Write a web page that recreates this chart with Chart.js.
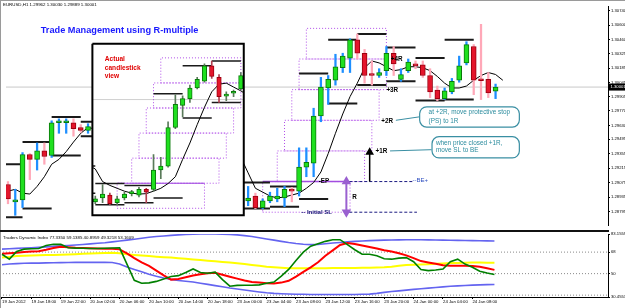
<!DOCTYPE html>
<html><head><meta charset="utf-8">
<script src="https://cdn.jsdelivr.net/npm/chart.js@4.4.1/dist/chart.umd.min.js"></script>
<style>
html,body{margin:0;padding:0;background:#fff;}
#wrap{position:relative;width:625px;height:308px;overflow:hidden;background:#fff;}
canvas{position:absolute;left:0;}
#main{top:0;}
#sub{top:226px;}
.ln{position:absolute;}
</style></head><body>
<div id="wrap">
<canvas id="main" width="625" height="231"></canvas>
<canvas id="sub" width="625" height="82"></canvas>
<div class="ln" style="left:0;top:0;width:625px;height:1px;background:#9a9a9a"></div>
<div class="ln" style="left:0;top:0;width:1px;height:308px;background:#9a9a9a"></div>
<div class="ln" style="left:0;top:230px;width:609px;height:2px;background:#111"></div>
</div>
<script>
// ---------------- DATA ----------------
const symbol = 'EURUSD,H1';
const timeLabels = ['19 Jan 2012','19 Jan 18:00','19 Jan 22:00','20 Jan 02:00','20 Jan 06:00','20 Jan 10:00','20 Jan 14:00','20 Jan 18:00','23 Jan 00:00','23 Jan 04:00','23 Jan 08:00','23 Jan 12:00','23 Jan 16:00','23 Jan 20:00','24 Jan 00:00','24 Jan 04:00','24 Jan 08:00'];
const priceTicks = ['1.30740','1.30600','1.30460','1.30325','1.30185','1.30045','1.29905','1.29770','1.29630','1.29495','1.29355','1.29215','1.29075','1.28935','1.28795'];

// main H1 candles (bar index = hour slot)
const mainBar   = [0,1,2,3,4,5,6,7,8,9,10,11,33,34,35,36,37,38,39,40,41,42,43,44,45,46,47,48,49,50,51,52,53,54,55,56,57,58,59,60,61,62,63,64,65,66,67];
const mainOpen  = [1.29057,1.28889,1.28908,1.29347,1.29300,1.29384,1.29338,1.29655,1.29655,1.29655,1.29609,1.29581,
  1.28898,1.28945,1.28833,1.28898,1.28917,1.28926,1.29010,1.28992,1.29225,1.29263,1.29721,1.29992,1.30067,1.30188,1.30282,1.30460,1.30329,1.30118,1.30113,1.30160,1.30329,1.30076,1.30160,1.30226,1.30216,1.30113,1.29973,1.29889,1.29955,1.30067,1.30235,1.30394,1.30076,1.30076,1.29962];
const mainHigh  = [1.29085,1.29010,1.29366,1.29356,1.29459,1.29459,1.29674,1.29693,1.29693,1.29693,1.29637,1.29646,
  1.29038,1.28973,1.28917,1.28982,1.29020,1.29038,1.29029,1.29412,1.29412,1.29796,1.30095,1.30113,1.30319,1.30329,1.30469,1.30516,1.30366,1.30254,1.30179,1.30394,1.30394,1.30179,1.30273,1.30254,1.30254,1.30179,1.30011,1.29992,1.30085,1.30301,1.30441,1.30413,1.30609,1.30142,1.30030];
const mainLow   = [1.28870,1.28758,1.28833,1.29104,1.29197,1.29253,1.29319,1.29553,1.29553,1.29525,1.29562,1.29553,
  1.28851,1.28823,1.28823,1.28880,1.28889,1.28842,1.28889,1.28945,1.29132,1.29132,1.29665,1.29833,1.30020,1.30142,1.30142,1.30273,1.30039,1.30020,1.30095,1.30113,1.30113,1.30057,1.30142,1.30179,1.30095,1.29899,1.29870,1.29880,1.29936,1.30048,1.30216,1.29927,1.29880,1.29899,1.29889];
const mainClose = [1.28917,1.28908,1.29347,1.29300,1.29384,1.29328,1.29655,1.29674,1.29665,1.29599,1.29581,1.29618,
  1.28926,1.28833,1.28898,1.28945,1.28945,1.29010,1.28992,1.29225,1.29272,1.29721,1.30001,1.30076,1.30198,1.30301,1.30460,1.30329,1.30113,1.30113,1.30142,1.30329,1.30226,1.30123,1.30244,1.30207,1.30113,1.29955,1.29889,1.29964,1.30057,1.30207,1.30413,1.30067,1.30062,1.29945,1.30001];

// moving average on the main chart
const maBar   = [0,1,2,3,4,5,6,7,8,9,10,11,32,33,34,35,36,37,38,39,40,41,42,43,44,45,46,47,48,49,50,51,52,53,54,55,56,57,58,59,60,61,62,63,64,65,66,67,68];
const maValue = [1.28992,1.29010,1.28973,1.28964,1.29038,1.29132,1.29253,1.29300,1.29375,1.29468,1.29553,1.29609,
  1.29319,1.29169,1.29020,1.28983,1.28945,1.28926,1.28936,1.28954,1.28973,1.29020,1.29076,1.29178,1.29356,1.29553,1.29740,1.29908,1.30039,1.30188,1.30254,1.30235,1.30198,1.30160,1.30170,1.30198,1.30198,1.30188,1.30160,1.30104,1.30039,1.29992,1.29992,1.30011,1.30067,1.30113,1.30142,1.30123,1.30067];

// H4 high/low markers (start slot, 4 slots long)
const h4Start = [-2,2,6,10,32,36,40,44,48,52,56,60];
const h4High  = [1.29253,1.29468,1.29712,1.29665,1.29076,1.29038,1.30132,1.30460,1.30516,1.30385,1.30282,1.30460];
const h4Low   = [1.28739,1.28823,1.29338,1.29525,1.28823,1.28842,1.28917,1.29842,1.30020,1.30057,1.29870,1.29880];

// R-multiple levels: SL, EP, +1R ... +5R
const rLevels = [1.28788,1.29085,1.29382,1.29679,1.29976,1.30273,1.30570];
const rBoxStart = [35,37,38,39,40,41];
const rBoxEnd   = [47,49,50,51,52,52];
const bidPrice = 1.30001;

// inset: "actual candlestick view"
const insetBar   = [12,13,14,15,16,17,18,19,20,21,22,23,24,25,26,27,28,29,30,31,32];
const insetOpen  = [1.28889,1.28926,1.28954,1.28880,1.28926,1.28968,1.28954,1.29010,1.29010,1.29197,1.29235,1.29609,1.29823,1.29889,1.29992,1.30057,1.30207,1.30095,1.29913,1.29941,1.29983];
const insetHigh  = [1.28945,1.29057,1.28973,1.28945,1.28982,1.29001,1.29029,1.29020,1.29347,1.29319,1.29665,1.29927,1.29917,1.30020,1.30095,1.30226,1.30254,1.30123,1.29955,1.29973,1.30142];
const insetLow   = [1.28870,1.28880,1.28861,1.28861,1.28908,1.28945,1.28936,1.28880,1.28992,1.29113,1.29225,1.29599,1.29712,1.29852,1.29983,1.30048,1.30085,1.29852,1.29870,1.29908,1.29973];
const insetClose = [1.28917,1.28964,1.28870,1.28917,1.28964,1.28973,1.29010,1.28982,1.29197,1.29235,1.29609,1.29833,1.29889,1.29992,1.30076,1.30207,1.30104,1.29908,1.29917,1.29945,1.30113];
const insetMaBar   = [11,12,13,14,15,16,17,18,19,20,21,22,23,24,25,26,27,28,29,30,31,32,33];
const insetMaValue = [1.29244,1.29207,1.29085,1.29048,1.29020,1.28992,1.28973,1.28964,1.28968,1.28992,1.29020,1.29066,1.29132,1.29300,1.29459,1.29637,1.29805,1.29955,1.30029,1.30039,1.30001,1.29964,1.29920];
const insetH4Start = [8,12,16,20,24,28];
const insetH4High  = [1.29235,1.29066,1.29048,1.29936,1.30207,1.30254];
const insetH4Low   = [1.28973,1.28861,1.28880,1.28926,1.29702,1.29852];
const insetLevels  = [1.28826,1.29069,1.29312,1.29555,1.29798,1.30041,1.30284];
const insetBoxStart = [15,17,18,19,20,21];
const insetBoxEnd   = [27,29,30,31,32,32];
const insetBid = 1.29880;

// Traders Dynamic Index (lower window), one value per slot 0..67
const tdiUpper = [70.5,70.8,71.1,71.4,71.7,72.0,72.4,72.8,73.2,73.6,74.0,74.4,74.9,75.4,75.9,76.6,77.3,78.0,78.8,79.6,80.4,81.0,81.5,82.0,82.4,82.7,82.9,83.1,83.15,83.1,83.0,82.8,82.4,81.8,81.0,80.0,79.0,78.0,77.0,76.0,75.2,74.6,74.3,74.5,75.0,75.6,76.1,76.6,77.0,77.3,77.6,77.8,78.0,78.1,78.2,78.3,78.3,78.3,78.2,78.1,78.0,77.9,77.8,77.7,77.6,77.5,77.4,77.34];
const tdiMid   = [63.4,64.0,64.7,65.0,65.2,65.3,65.5,65.6,65.8,66.0,66.3,66.6,66.9,67.1,67.3,67.5,67.0,66.2,65.6,65.1,64.7,64.2,63.8,63.4,62.9,62.4,61.9,61.4,60.8,60.3,59.8,59.4,58.7,58.0,57.2,56.5,55.8,55.3,54.9,54.5,54.5,54.5,54.6,54.6,54.6,54.7,54.7,54.7,54.8,54.9,55.0,55.1,55.3,55.8,56.5,57.2,57.5,57.7,57.9,58.2,58.5,58.8,59.0,59.2,59.3,59.3,59.2,59.14];
const tdiLower = [57.4,58.0,58.4,58.7,58.8,58.8,59.0,59.1,59.2,59.3,59.4,59.4,59.4,59.4,59.4,59.3,58.0,55.5,53.5,51.5,49.5,47.8,46.4,45.2,44.3,43.6,43.0,42.0,41.0,40.0,39.0,38.0,37.2,36.3,35.5,34.7,34.0,33.5,33.2,33.0,32.8,32.7,32.6,32.6,32.6,32.6,32.6,32.6,32.6,32.7,32.9,33.5,34.3,35.0,35.6,36.2,36.8,37.4,37.9,38.4,38.9,39.4,39.8,40.1,40.4,40.6,40.8,40.9];
const tdiPrice = [66.2,62.1,68.5,70.5,70.8,71.0,73.5,74.6,74.5,71.6,71.3,71.2,71.0,71.0,71.2,71.4,71.6,58.0,44.4,42.0,42.3,43.5,45.5,47.6,48.3,51.0,53.9,51.0,50.3,51.2,45.0,39.5,40.2,40.3,40.3,40.6,42.0,43.0,48.0,53.5,61.0,68.0,73.0,75.0,77.0,78.4,78.4,74.3,70.0,66.2,66.2,65.0,62.5,62.1,63.0,63.4,60.0,53.5,52.5,53.0,53.9,60.0,62.1,58.0,55.3,52.0,50.5,49.32];
const tdiSignal = [66.7,67.1,67.5,68.0,68.5,68.8,70.0,71.5,72.4,72.0,71.6,71.4,71.2,71.0,70.9,70.8,70.3,67.0,63.0,59.5,56.5,52.5,48.5,45.0,45.5,47.0,48.5,49.5,50.4,50.7,49.0,47.4,45.8,44.2,43.0,42.5,42.0,41.7,42.5,44.0,47.5,51.5,55.3,59.5,65.0,69.5,74.0,75.6,74.8,73.5,72.3,71.0,69.5,68.5,67.0,65.3,63.0,60.5,59.4,58.2,57.0,56.6,56.6,56.6,56.4,55.8,54.5,53.16];
const tdiLevels = [68,50,32];
const tdiMax = 83.1559, tdiMin = 30.4553;
const tdiHeader = ['Traders Dynamic Index','77.3350','59.1385','40.8959','49.3218','53.1609'];

// ---------------- LAYOUT / STYLE ----------------
const FONT = '"Liberation Sans", Arial, sans-serif';
const xMin = -0.272, xMax = 82.45;
const yMin = 1.286641, yMax = 1.307868;
const insetFrame = {left: 11.6, right: 32.4, top: 1.30422, bottom: 1.28758};
const UP = '#1fe01f', UPB = '#0a7a0a', DN = '#e4162c', DNB = '#9a0010';

let datasets = [];
function seg(points, style) { return Object.assign({type:'line', data: points, pointRadius:0, tension:0, spanGaps:false, fill:false}, style); }
function h4Sets(starts, highs, lows, style) {
  const pts = [];
  starts.forEach((s,i)=>{ pts.push({x:s,y:highs[i]},{x:s+4,y:highs[i]},{x:s+4,y:null}); pts.push({x:s,y:lows[i]},{x:s+4,y:lows[i]},{x:s+4,y:null}); });
  return seg(pts, style);
}
function boxSets(starts, ends, levels, style) {
  const pts = [];
  starts.forEach((s,i)=>{ const e=ends[i], b=levels[i], t=levels[i+1];
    pts.push({x:s,y:b},{x:e,y:b},{x:e,y:t},{x:s,y:t},{x:s,y:b},{x:s,y:null}); });
  return seg(pts, style);
}
function candleSets(bars,o,h,l,c,opt) {
  const up = i => c[i] >= o[i];
  return [
    {type:'bar', data: bars.map((b,i)=>({x:b,y:[l[i],h[i]]})), grouped:false, barThickness:opt.wickW, borderWidth:0,
     backgroundColor: bars.map((b,i)=> up(i)? opt.upWick : opt.dnWick), inset: opt.inset},
    {type:'bar', data: bars.map((b,i)=>({x:b,y:[o[i],c[i]]})), grouped:false, barThickness:opt.bodyW, borderWidth:1, borderSkipped:false, minBarLength:2,
     backgroundColor: bars.map((b,i)=> up(i)? UP : DN), borderColor: bars.map((b,i)=> up(i)? UPB : DNB), inset: opt.inset}
  ];
}

// main chart layers
datasets.push(seg([{x:xMin,y:bidPrice},{x:xMax,y:bidPrice}], {borderColor:'#c8c8c8', borderWidth:1}));
datasets.push(boxSets(rBoxStart, rBoxEnd, rLevels, {borderColor:'#b04ee8', borderWidth:1, borderDash:[1,2]}));
datasets.push(seg([{x:rBoxStart[0],y:rLevels[1]},{x:46.6,y:rLevels[1]}], {borderColor:'#a24de0', borderWidth:1.5}));
datasets.push(h4Sets(h4Start, h4High, h4Low, {borderColor:'#1a1a1a', borderWidth:2}));
datasets.push(seg(maBar.map((b,i)=>({x:b,y:maValue[i]})), {borderColor:'#000', borderWidth:1}));
datasets.push(...candleSets(mainBar, mainOpen, mainHigh, mainLow, mainClose, {wickW:1.6, bodyW:5, upWick:'#1e8fff', dnWick:'#ffa8b8'}));
// trade annotations lines
datasets.push(seg([{x:46.9,y:rLevels[1]},{x:55.8,y:rLevels[1]}], {borderColor:'#1a1a80', borderWidth:1, borderDash:[3,2]}));
datasets.push(seg([{x:46.9,y:rLevels[0]},{x:56.2,y:rLevels[0]}], {borderColor:'#1a1a80', borderWidth:1, borderDash:[3,2]}));
datasets.push(seg([{x:46.5,y:rLevels[1]},{x:46.5,y:rLevels[0]}], {borderColor:'#9a60d0', borderWidth:2, pointRadius:[3.5,3.5], pointStyle:'triangle', pointRotation:[0,180], pointBackgroundColor:'#9a60d0', pointBorderColor:'#9a60d0'}));
datasets.push(seg([{x:49.7,y:rLevels[1]},{x:49.7,y:rLevels[2]-0.00012}], {borderColor:'#000', borderWidth:1.5, pointRadius:[0,3.5], pointStyle:'triangle', pointBackgroundColor:'#000', pointBorderColor:'#000'}));
datasets.push(seg([{x:53.3,y:rLevels[3]},{x:56.5,y:1.29712}], {borderColor:'#3a8fa3', borderWidth:1}));
datasets.push(seg([{x:52.5,y:rLevels[2]},{x:58.2,y:1.29394}], {borderColor:'#3a8fa3', borderWidth:1}));
// inset layers
datasets.push(seg([{x:insetFrame.left,y:insetFrame.top},{x:insetFrame.right,y:insetFrame.top}], {fill:{value:insetFrame.bottom}, backgroundColor:'#fff', borderWidth:0}));
datasets.push(seg([{x:insetFrame.left,y:insetBid},{x:insetFrame.right,y:insetBid}], {borderColor:'#d0d0d0', borderWidth:1, inset:true}));
datasets.push(boxSets(insetBoxStart, insetBoxEnd, insetLevels, {borderColor:'#b04ee8', borderWidth:1, borderDash:[1,2], inset:true}));
datasets.push(seg([{x:insetBoxStart[0],y:insetLevels[1]},{x:insetBoxEnd[0],y:insetLevels[1]}], {borderColor:'#a24de0', borderWidth:1.2, inset:true}));
datasets.push(h4Sets(insetH4Start, insetH4High, insetH4Low, {borderColor:'#1a1a1a', borderWidth:1.5, inset:true}));
datasets.push(seg(insetMaBar.map((b,i)=>({x:b,y:insetMaValue[i]})), {borderColor:'#000', borderWidth:1, inset:true}));
datasets.push(...candleSets(insetBar, insetOpen, insetHigh, insetLow, insetClose, {wickW:1, bodyW:4.5, upWick:'#5a7a5a', dnWick:'#b04050', inset:true}));
datasets.push(seg([{x:insetFrame.left,y:insetFrame.top},{x:insetFrame.right,y:insetFrame.top},{x:insetFrame.right,y:insetFrame.bottom},{x:insetFrame.left,y:insetFrame.bottom},{x:insetFrame.left,y:insetFrame.top}], {borderColor:'#000', borderWidth:2}));
datasets.forEach((d,i)=>{ d.order = datasets.length - i; });

const notes = [
  {t:'Trade Management using R-multiple', x:4.5, y:1.30553, f:'bold 9.2px '+FONT, c:'#1a1aff'},
  {t:'Actual', x:13.3, y:1.30273, f:'bold 6.6px '+FONT, c:'#e00000'},
  {t:'candlestick', x:13.3, y:1.30188, f:'bold 6.6px '+FONT, c:'#e00000'},
  {t:'view', x:13.3, y:1.30108, f:'bold 6.6px '+FONT, c:'#e00000'},
  {t:'+4R', x:52.6, y:rLevels[5], f:'bold 6.3px '+FONT, c:'#000'},
  {t:'+3R', x:52.0, y:rLevels[4]-0.00010, f:'bold 6.3px '+FONT, c:'#000'},
  {t:'+2R', x:51.3, y:rLevels[3]-0.00010, f:'bold 6.3px '+FONT, c:'#000'},
  {t:'+1R', x:50.5, y:rLevels[2], f:'bold 6.3px '+FONT, c:'#000'},
  {t:'-EP', x:42.7, y:rLevels[1], f:'bold 6.3px '+FONT, c:'#000'},
  {t:'R', x:47.3, y:(rLevels[0]+rLevels[1])/2, f:'bold 6.3px '+FONT, c:'#000'},
  {t:'-- Initial SL', x:40.3, y:rLevels[0], f:'bold 6px '+FONT, c:'#101070'},
  {t:'--BE+', x:55.6, y:rLevels[1]+0.00015, f:'6px '+FONT, c:'#3050c0'}
];
const callouts = [
  {x0:56.5, x1:70.2, y0:1.29814, y1:1.29618, tx:57.8, lines:['at +2R, move protective stop','(PS) to 1R'], ly:[1.29758,1.29674]},
  {x0:58.2, x1:70.2, y0:1.29525, y1:1.29319, tx:58.8, lines:['when price closed +1R,','move SL to BE'], ly:[1.29459,1.29384]}
];

const insetClip = {
  id:'insetClip',
  beforeDatasetDraw(chart, args) {
    if (!chart.data.datasets[args.index].inset) return;
    const {x,y} = chart.scales, ctx = chart.ctx;
    const l = x.getPixelForValue(insetFrame.left), r = x.getPixelForValue(insetFrame.right);
    const t = y.getPixelForValue(insetFrame.top), b = y.getPixelForValue(insetFrame.bottom);
    ctx.save(); ctx.beginPath(); ctx.rect(l, t, r-l, b-t); ctx.clip();
  },
  afterDatasetDraw(chart, args) { if (chart.data.datasets[args.index].inset) chart.ctx.restore(); }
};
const mainNotes = {
  id:'mainNotes',
  afterDatasetsDraw(chart) {
    const {ctx, chartArea} = chart, X = chart.scales.x, Y = chart.scales.y;
    ctx.save();
    ctx.textBaseline = 'middle'; ctx.textAlign = 'left';
    callouts.forEach(c=>{
      const l=X.getPixelForValue(c.x0), r=X.getPixelForValue(c.x1), t=Y.getPixelForValue(c.y0), b=Y.getPixelForValue(c.y1);
      ctx.beginPath(); ctx.roundRect(l+0.5, t+0.5, r-l, b-t, 7);
      ctx.fillStyle='#fff'; ctx.fill(); ctx.strokeStyle='#3a8fa3'; ctx.lineWidth=1.2; ctx.stroke();
      ctx.fillStyle='#2b8c9e'; ctx.font='6.4px '+FONT;
      c.lines.forEach((s,i)=> ctx.fillText(s, X.getPixelForValue(c.tx), Y.getPixelForValue(c.ly[i])));
    });
    notes.forEach(n=>{ ctx.font=n.f; ctx.fillStyle=n.c; ctx.fillText(n.t, X.getPixelForValue(n.x), Y.getPixelForValue(n.y)); });
    const k = mainOpen.length-1;
    ctx.font='4.4px '+FONT; ctx.fillStyle='#000';
    ctx.fillText(symbol+' '+[mainOpen[k],mainHigh[k],mainLow[k],mainClose[k]].map(v=>v.toFixed(5)).join(' '), 3, 5);
    const by = Y.getPixelForValue(bidPrice);
    ctx.fillStyle='#000'; ctx.fillRect(chartArea.right+1, by-3.5, 17, 7);
    ctx.fillStyle='#fff'; ctx.font='4.2px '+FONT; ctx.fillText(bidPrice.toFixed(5), chartArea.right+2.5, by);
    ctx.restore();
  }
};

new Chart(document.getElementById('main'), {
  type:'bar',
  data:{datasets},
  options:{
    responsive:false, animation:false, devicePixelRatio:1,
    layout:{padding:{top:3,bottom:1,left:0,right:0}},
    plugins:{legend:{display:false}, tooltip:{enabled:false}},
    scales:{
      x:{type:'linear', min:xMin, max:xMax, offset:false, display:false},
      y:{position:'right', min:yMin, max:yMax,
         afterFit:s=>{s.width=17;},
         afterBuildTicks:s=>{s.ticks = priceTicks.map(t=>({value:parseFloat(t)}));},
         ticks:{callback:(v,i)=>priceTicks[i], font:{size:4.2, family:FONT}, color:'#000', padding:1, autoSkip:false},
         grid:{drawOnChartArea:false, tickLength:2, color:'#000'},
         border:{color:'#000', width:1}}
    }
  },
  plugins:[insetClip, mainNotes]
});

// ---------------- lower window ----------------
const tdiSets = [];
tdiLevels.forEach(v=> tdiSets.push(seg([{x:xMin,y:v},{x:xMax,y:v}], {borderColor:'#8a8a8a', borderWidth:1, borderDash:[1,2]})));
const line = (arr, color, w) => seg(arr.map((v,i)=>({x:i,y:v})), {borderColor:color, borderWidth:w});
tdiSets.push(line(tdiUpper,'#6464f0',1.6));
tdiSets.push(line(tdiLower,'#6464f0',1.6));
tdiSets.push(line(tdiMid,'#ffff00',2));
tdiSets.push(line(tdiSignal,'#ff0000',2));
tdiSets.push(line(tdiPrice,'#008000',1.6));
tdiSets.forEach((d,i)=>{ d.order = tdiSets.length - i; });

const subNotes = {
  id:'subNotes',
  afterDatasetsDraw(chart){
    const ctx = chart.ctx;
    ctx.save(); ctx.textBaseline='middle'; ctx.textAlign='left';
    ctx.font='4.4px '+FONT; ctx.fillStyle='#000';
    ctx.fillText(tdiHeader.join(' '), 3, chart.chartArea.top+3.5);
    ctx.restore();
  }
};
new Chart(document.getElementById('sub'), {
  type:'line',
  data:{datasets:tdiSets},
  options:{
    responsive:false, animation:false, devicePixelRatio:1,
    layout:{padding:{top:8,bottom:0,left:0,right:0}},
    plugins:{legend:{display:false}, tooltip:{enabled:false}},
    scales:{
      x:{type:'linear', min:xMin, max:xMax, offset:false, position:'bottom',
         afterFit:s=>{s.height=11;},
         afterBuildTicks:s=>{s.ticks = timeLabels.map((_,j)=>({value:j*4}));},
         ticks:{callback:(v,i)=>timeLabels[i], align:'start', font:{size:4.3, family:FONT}, color:'#000', padding:0, maxRotation:0, autoSkip:false},
         grid:{drawOnChartArea:false, tickLength:2, color:'#000'},
         border:{color:'#000'}},
      y:{position:'right', min:tdiMin, max:tdiMax,
         afterFit:s=>{s.width=17;},
         afterBuildTicks:s=>{s.ticks = [tdiMax,tdiLevels[0],tdiLevels[1],tdiMin].map(v=>({value:v}));},
         ticks:{callback:v=> (v===tdiMax||v===tdiMin)? v.toFixed(4) : String(v), font:{size:4.2, family:FONT}, color:'#000', padding:1, autoSkip:false},
         grid:{drawOnChartArea:false, tickLength:2, color:'#000'},
         border:{color:'#000'}}
    }
  },
  plugins:[subNotes]
});
</script>
</body></html>
